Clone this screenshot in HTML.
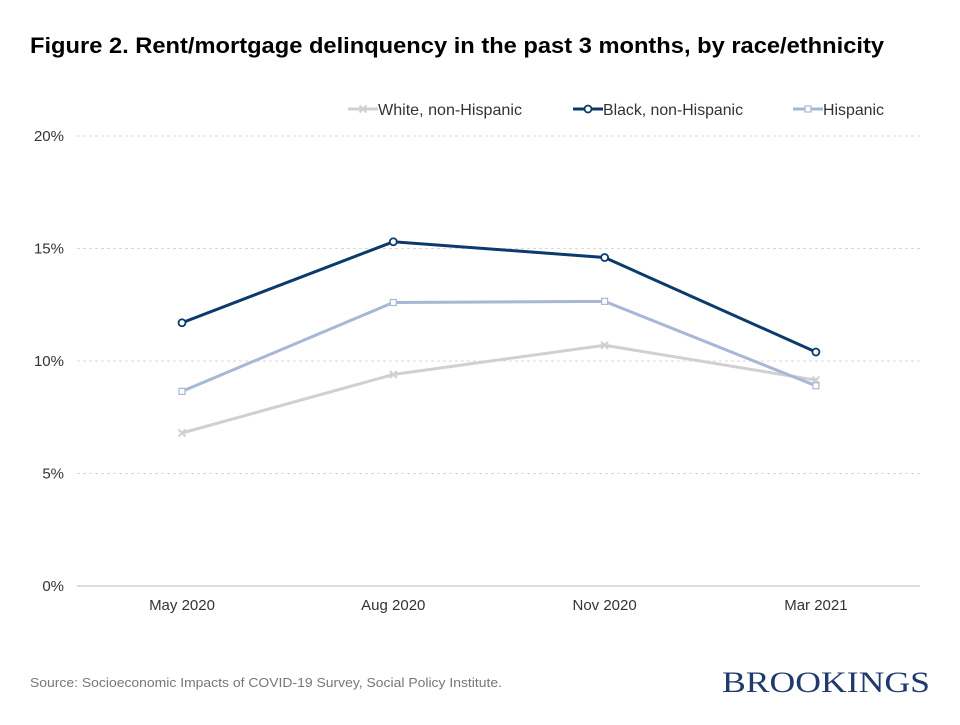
<!DOCTYPE html>
<html><head><meta charset="utf-8"><style>
body{margin:0;background:#fff;width:960px;height:720px;overflow:hidden;font-family:"Liberation Sans",Arial,sans-serif}
</style></head><body>
<svg width="960" height="720" xmlns="http://www.w3.org/2000/svg">
<text x="30" y="53" font-size="22" font-weight="bold" fill="#000" textLength="854" lengthAdjust="spacingAndGlyphs">Figure 2. Rent/mortgage delinquency in the past 3 months, by race/ethnicity</text>
<g id="grid"></g><g id="series"></g>
<g id="legend" font-size="16" fill="#333"></g>
<text x="30" y="687" font-size="13" fill="#777" textLength="472" lengthAdjust="spacingAndGlyphs">Source: Socioeconomic Impacts of COVID-19 Survey, Social Policy Institute.</text>
<text x="722" y="692" font-size="30" fill="#1f3a6b" font-family="Liberation Serif,serif" textLength="208" lengthAdjust="spacingAndGlyphs">BROOKINGS</text>
</svg>
<script>
const categories=["May 2020","Aug 2020","Nov 2020","Mar 2021"];
const yTicks=[0,5,10,15,20];
const white=[6.8,9.4,10.7,9.15];
const black=[11.7,15.3,14.6,10.4];
const hispanic=[8.65,12.6,12.65,8.9];
const NS="http://www.w3.org/2000/svg";
function X(i){return 182+i*211.3;}
function Y(v){return 586-v*22.5;}
function mk(t,a,p){const e=document.createElementNS(NS,t);for(const k in a)e.setAttribute(k,a[k]);p.appendChild(e);return e;}
const g=document.getElementById('grid');
yTicks.forEach(v=>{
 const l=mk('line',{x1:77,x2:920,y1:Y(v),y2:Y(v),stroke:v===0?'#bbb':'#d9d9d9','stroke-dasharray':v===0?'':'3,3'},g);
 
 
 const t=mk('text',{x:64,y:Y(v)+5,'text-anchor':'end','font-size':15,fill:'#333'},g);t.textContent=v+'%';
 
 
});
categories.forEach((c,i)=>{
 const t=mk('text',{x:X(i),y:610,'text-anchor':'middle','font-size':15,fill:'#333'},g);t.textContent=c;
 
 
});
const s=document.getElementById('series');
function marker(x,y,type,col,p){
 if(type==='x'){const gg=mk('g',{stroke:col,'stroke-width':2},p);mk('line',{x1:x-3.5,y1:y-3.5,x2:x+3.5,y2:y+3.5},gg);mk('line',{x1:x-3.5,y1:y+3.5,x2:x+3.5,y2:y-3.5},gg);return gg;}
 if(type==='o')return mk('circle',{cx:x,cy:y,r:3.5,fill:'#fff',stroke:col,'stroke-width':1.8},p);
 return mk('rect',{x:x-3,y:y-3,width:6,height:6,fill:'#fff',stroke:col,'stroke-width':1.2},p);
}
const defs=[["white-series",white,'#d0d0d0','x'],["hispanic-series",hispanic,'#a6b8d5','s'],["black-series",black,'#0b3a6c','o']];
defs.forEach(([n,d,col,m])=>{
 const pl=mk('polyline',{points:d.map((v,i)=>X(i)+','+Y(v)).join(' '),fill:'none',stroke:col,'stroke-width':3},s);
 
 
 d.forEach((v,i)=>{const e=marker(X(i),Y(v),m,col,s);
  
  });
});
const lg=document.getElementById('legend');
[["White, non-Hispanic",'#d0d0d0','x',348,144],["Black, non-Hispanic",'#0b3a6c','o',573,140],["Hispanic",'#a6b8d5','s',793,61]].forEach(([lab,col,m,x,w])=>{
 const gg=mk('g',{},lg);
 
 
 mk('line',{x1:x,x2:x+30,y1:109,y2:109,stroke:col,'stroke-width':3},gg);
 marker(x+15,109,m,col,gg);
 const t=mk('text',{x:x+30,y:115,'font-size':16,fill:'#333',textLength:w,lengthAdjust:'spacingAndGlyphs'},gg);t.textContent=lab;
});
</script>
</body></html>
